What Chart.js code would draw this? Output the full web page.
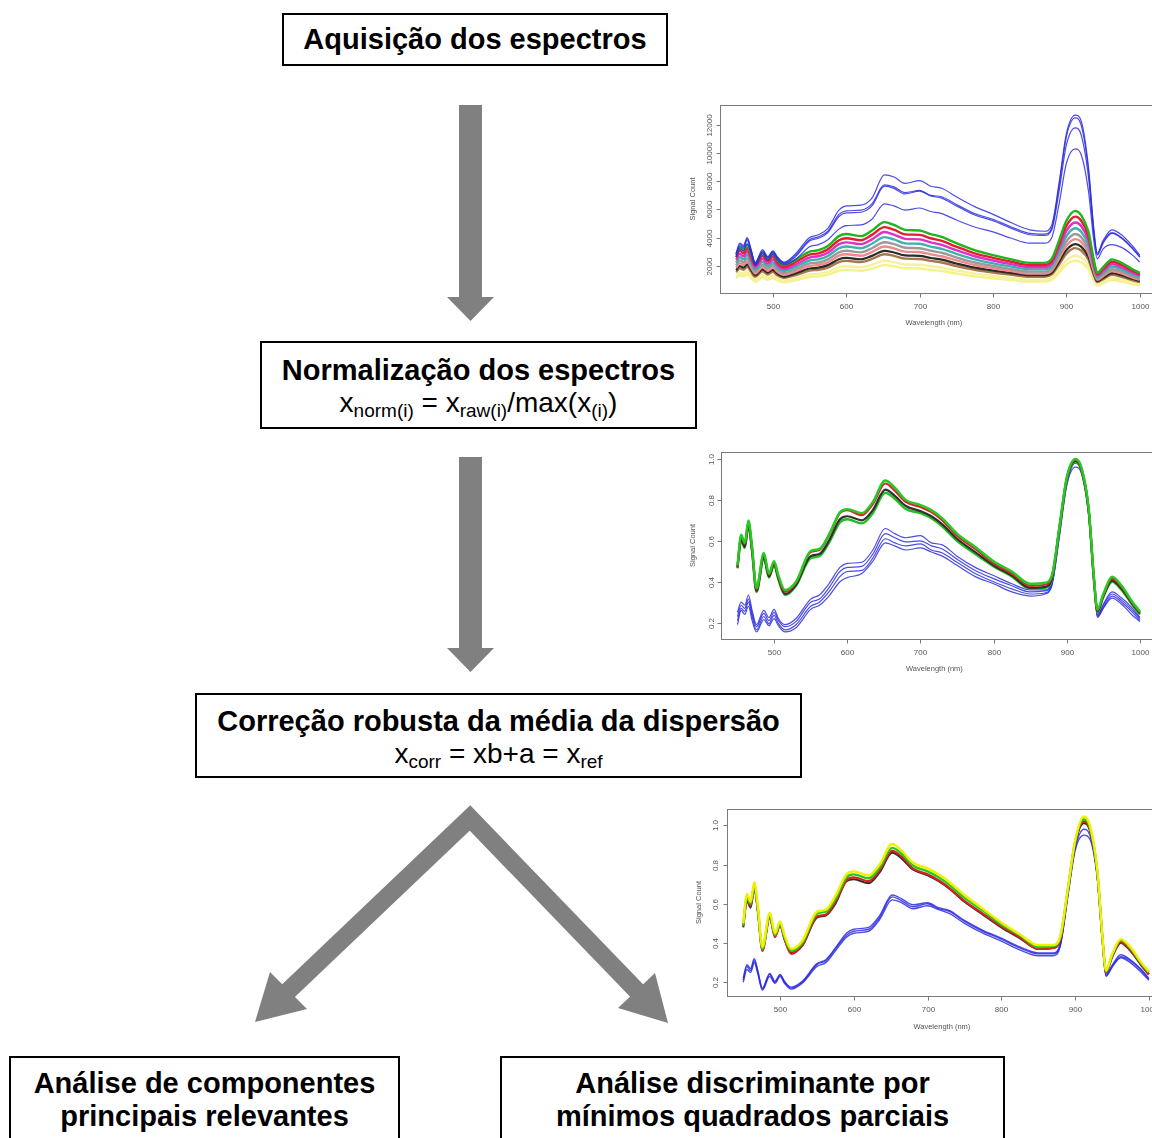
<!DOCTYPE html>
<html>
<head>
<meta charset="utf-8">
<script src="https://cdn.jsdelivr.net/npm/chart.js@4/dist/chart.umd.min.js"></script>
<style>
html, body { margin: 0; padding: 0; background: #fff; }
body { width: 1152px; height: 1138px; position: relative; overflow: hidden; font-family: "Liberation Sans", Arial, sans-serif; }
.box { position: absolute; border: 2px solid #000; box-sizing: border-box; background: #fff; }
.txt { position: absolute; text-align: center; font-weight: bold; font-size: 29px; line-height: 34px; white-space: nowrap; color: #000; }
.frm { position: absolute; text-align: center; font-size: 28px; line-height: 34px; white-space: nowrap; color: #000; }
.frm sub { font-size: 19px; vertical-align: baseline; position: relative; top: 5px; line-height: 0; }
canvas { position: absolute; }
svg { position: absolute; left: 0; top: 0; }
</style>
</head>
<body>

<svg width="1152" height="1138">
  <g fill="#808080">
    <rect x="459" y="105" width="23" height="193"/>
    <polygon points="447,297 494,297 470.5,321"/>
    <rect x="459" y="457" width="23" height="192"/>
    <polygon points="447,648 494,648 470.5,672"/>
    <polygon points="270,972 307,1009 255,1022"/>
    <polygon points="655,973 618,1008 668,1023"/>
  </g>
  <polyline points="286,993 470,818 639,993" fill="none" stroke="#808080" stroke-width="18" stroke-linejoin="miter"/>
</svg>

<div class="box" style="left:282px;top:13px;width:386px;height:53px"></div>
<div class="txt" style="left:282px;top:22px;width:386px">Aquisição dos espectros</div>

<div class="box" style="left:260px;top:341px;width:437px;height:88px"></div>
<div class="txt" style="left:260px;top:353px;width:437px">Normalização dos espectros</div>
<div class="frm" style="left:260px;top:386px;width:437px">x<sub>norm(i)</sub> = x<sub>raw(i)</sub>/max(x<sub>(i)</sub>)</div>

<div class="box" style="left:195px;top:693px;width:607px;height:85px"></div>
<div class="txt" style="left:195px;top:704px;width:607px">Correção robusta da média da dispersão</div>
<div class="frm" style="left:195px;top:737px;width:607px">x<sub>corr</sub> = xb+a = x<sub>ref</sub></div>

<div class="box" style="left:9px;top:1056px;width:391px;height:100px"></div>
<div class="txt" style="left:9px;top:1067px;width:391px;line-height:33px">Análise de componentes<br>principais relevantes</div>

<div class="box" style="left:500px;top:1056px;width:505px;height:100px"></div>
<div class="txt" style="left:500px;top:1067px;width:505px;line-height:33px">Análise discriminante por<br>mínimos quadrados parciais</div>

<canvas id="raw" width="476" height="236" style="left:680px;top:100px"></canvas>
<canvas id="norm" width="476" height="230" style="left:680px;top:448px"></canvas>
<canvas id="corr" width="485" height="230" style="left:680px;top:808px"></canvas>

<script>
// wavelength grid (nm) shared by every spectrum
const wavelengths = [450,455,460,465,470,476,486,493,500,506,515,
  530,550,562,575,590,600,620,635,652,665,680,
  700,715,730,750,775,800,825,850,870,880,890,
  900,912,920,930,937,942,950,962,975,990,1000];

const xTicks = [500, 600, 700, 800, 900, 1000];
const rawTicks = [2000, 4000, 6000, 8000, 10000, 12000];
const normTicks = [0.2, 0.4, 0.6, 0.8, 1.0];

// --- raw spectra (signal count) ---
const raw_blue_1 = [2900,3600,3450,4000,3250,2200,3150,2650,3050,2650,2250,
  2800,4000,4200,4650,5950,6250,6300,6800,8450,8300,7850,
  8050,7650,7500,6900,6200,5650,5050,4550,4450,4900,7900,
  11400,12700,12300,9000,4800,2900,3800,4550,4200,3400,2750];
const raw_blue_2 = [2800,3500,3350,3900,3150,2150,3050,2600,3000,2600,2200,
  2700,3850,4050,4450,5650,5900,5950,6400,7750,7600,7200,
  7350,7000,6900,6350,5700,5300,4750,4300,4250,4700,7700,
  11200,12500,12000,8800,4600,2800,3700,4350,4000,3250,2650];
const raw_blue_3 = [2750,3400,3250,3800,3100,2100,3000,2550,2950,2550,2150,
  2600,3750,3950,4350,5500,5750,5800,6250,7650,7500,7100,
  7300,6950,6800,6250,5600,5200,4650,4200,4150,4550,7300,
  10600,11800,11300,8300,4400,2750,3600,4300,3950,3200,2600];
const raw_blue_4 = [2600,3200,3050,3550,2900,2000,2850,2400,2800,2400,2050,
  2400,3350,3500,3850,4600,4850,4900,5300,6400,6250,5950,
  6100,5850,5700,5250,4750,4400,3950,3600,3600,4000,6400,
  9300,10300,9900,7300,3900,2500,3200,3500,3300,2750,2250];
const raw_green = [2800,3300,3100,3500,2900,2200,2900,2500,2850,2400,2050,
  2400,3000,3100,3400,4100,4250,4100,4500,5100,4900,4550,
  4500,4250,4050,3600,3100,2750,2450,2200,2200,2500,3800,
  5200,5900,5600,4400,2500,1500,1900,2450,2200,1750,1500];
const raw_red = [2600,3070,2880,3250,2700,2050,2700,2330,2650,2230,1900,
  2230,2790,2880,3160,3810,3950,3810,4190,4740,4560,4230,
  4190,3950,3770,3350,2880,2560,2280,2050,2050,2330,3530,
  4840,5490,5210,4090,2330,1400,1770,2280,2050,1630,1400];
const raw_magenta = [2410,2840,2670,3010,2490,1890,2490,2150,2450,2060,1760,
  2060,2580,2670,2920,3530,3660,3530,3870,4390,4210,3910,
  3870,3660,3480,3100,2670,2370,2110,1890,1890,2150,3270,
  4470,5070,4820,3780,2150,1290,1630,2110,1890,1510,1290];
const raw_teal = [2210,2610,2450,2770,2290,1740,2290,1980,2250,1900,1620,
  1900,2370,2450,2690,3240,3360,3240,3560,4030,3870,3590,
  3560,3360,3200,2840,2450,2170,1940,1740,1740,1980,3000,
  4110,4660,4420,3480,1980,1190,1500,1940,1740,1380,1190];
const raw_gray = [2020,2380,2230,2520,2090,1580,2090,1800,2050,1730,1480,
  1730,2160,2230,2450,2950,3060,2950,3240,3670,3530,3280,
  3240,3060,2920,2590,2230,1980,1760,1580,1580,1800,2740,
  3740,4250,4030,3170,1800,1080,1370,1760,1580,1260,1080];
const raw_pink = [1850,2180,2050,2310,1910,1450,1910,1650,1880,1580,1350,
  1580,1980,2050,2240,2710,2810,2710,2970,3370,3230,3000,
  2970,2810,2670,2380,2050,1820,1620,1450,1450,1650,2510,
  3430,3890,3700,2900,1650,990,1250,1620,1450,1160,990];
const raw_black = [1680,1980,1860,2100,1740,1320,1740,1500,1710,1440,1230,
  1440,1800,1860,2040,2460,2550,2460,2700,3060,2940,2730,
  2700,2550,2430,2160,1860,1650,1470,1320,1320,1500,2280,
  3120,3540,3360,2640,1500,900,1140,1470,1320,1050,900];
const raw_brown = [1540,1820,1710,1930,1600,1210,1600,1380,1570,1320,1130,
  1320,1650,1710,1870,2260,2340,2260,2480,2810,2700,2500,
  2480,2340,2230,1980,1710,1510,1350,1210,1210,1380,2090,
  2860,3250,3080,2420,1380,830,1050,1350,1210,960,830];
const raw_paleyellow = [1290,1520,1430,1610,1330,1010,1330,1150,1310,1100,940,
  1100,1380,1430,1560,1890,1960,1890,2070,2350,2250,2090,
  2070,1960,1860,1660,1430,1270,1130,1010,1010,1150,1750,
  2390,2710,2580,2020,1150,690,870,1130,1010,810,690];
const raw_yellow = [1120,1320,1240,1400,1160,880,1160,1000,1140,960,820,
  960,1200,1240,1360,1640,1700,1640,1800,2040,1960,1820,
  1800,1700,1620,1440,1240,1100,980,880,880,1000,1520,
  2080,2360,2240,1760,1000,600,760,980,880,700,600];

// --- normalised spectra ---
const norm_green_top = [0.48,0.63,0.59,0.70,0.57,0.37,0.54,0.44,0.50,0.43,0.36,
  0.40,0.55,0.56,0.63,0.74,0.755,0.735,0.79,0.895,0.86,0.80,
  0.775,0.75,0.71,0.635,0.57,0.50,0.45,0.39,0.395,0.435,0.67,
  0.91,1.0,0.96,0.76,0.43,0.265,0.34,0.425,0.38,0.30,0.255];
const norm_red = [0.475,0.625,0.585,0.695,0.565,0.365,0.535,0.435,0.495,0.425,0.35,
  0.395,0.545,0.555,0.625,0.735,0.75,0.725,0.78,0.88,0.845,0.79,
  0.765,0.74,0.70,0.625,0.56,0.49,0.44,0.38,0.385,0.43,0.665,
  0.905,0.995,0.955,0.755,0.425,0.26,0.335,0.415,0.375,0.295,0.25];
const norm_black = [0.47,0.61,0.57,0.68,0.55,0.355,0.52,0.425,0.485,0.415,0.34,
  0.385,0.525,0.535,0.60,0.705,0.72,0.70,0.75,0.85,0.82,0.77,
  0.745,0.72,0.68,0.61,0.545,0.48,0.43,0.37,0.375,0.42,0.66,
  0.90,0.99,0.95,0.75,0.42,0.255,0.33,0.405,0.365,0.29,0.245];
const norm_green_low = [0.465,0.60,0.565,0.675,0.545,0.35,0.515,0.42,0.48,0.41,0.335,
  0.38,0.515,0.525,0.59,0.69,0.705,0.685,0.735,0.835,0.805,0.755,
  0.735,0.71,0.67,0.60,0.535,0.475,0.425,0.365,0.37,0.415,0.655,
  0.895,0.985,0.945,0.745,0.415,0.25,0.325,0.40,0.36,0.285,0.24];
const norm_blue_1 = [0.25,0.30,0.285,0.335,0.26,0.19,0.26,0.225,0.265,0.22,0.19,
  0.22,0.315,0.335,0.39,0.47,0.49,0.495,0.555,0.66,0.635,0.615,
  0.625,0.59,0.58,0.525,0.47,0.43,0.39,0.36,0.36,0.40,0.65,
  0.89,0.995,0.955,0.74,0.42,0.24,0.29,0.35,0.32,0.27,0.225];
const norm_blue_2 = [0.23,0.285,0.27,0.315,0.245,0.18,0.245,0.21,0.25,0.21,0.18,
  0.205,0.30,0.315,0.37,0.45,0.47,0.475,0.535,0.635,0.615,0.595,
  0.60,0.575,0.56,0.51,0.455,0.415,0.38,0.35,0.355,0.395,0.64,
  0.885,0.99,0.95,0.735,0.415,0.235,0.285,0.34,0.31,0.26,0.22];
const norm_blue_3 = [0.21,0.27,0.255,0.30,0.23,0.165,0.23,0.195,0.235,0.195,0.165,
  0.19,0.28,0.30,0.35,0.425,0.45,0.455,0.515,0.61,0.59,0.575,
  0.585,0.555,0.54,0.495,0.44,0.40,0.365,0.34,0.345,0.39,0.63,
  0.875,0.98,0.94,0.73,0.41,0.23,0.275,0.33,0.30,0.25,0.21];
const norm_blue_4 = [0.19,0.26,0.24,0.28,0.21,0.155,0.215,0.185,0.22,0.185,0.155,
  0.175,0.265,0.285,0.33,0.40,0.42,0.44,0.50,0.59,0.575,0.555,
  0.565,0.545,0.525,0.48,0.425,0.39,0.35,0.33,0.34,0.385,0.62,
  0.87,0.96,0.93,0.72,0.40,0.225,0.27,0.32,0.29,0.235,0.205];

// --- scatter-corrected spectra ---
const corr_yellow = [0.50,0.65,0.61,0.71,0.58,0.38,0.555,0.45,0.51,0.44,0.37,
  0.41,0.56,0.57,0.64,0.75,0.765,0.745,0.80,0.905,0.87,0.81,
  0.78,0.75,0.71,0.645,0.575,0.505,0.445,0.39,0.39,0.435,0.67,
  0.92,1.045,1.0,0.78,0.44,0.26,0.34,0.42,0.38,0.30,0.255];
const corr_green = [0.49,0.635,0.60,0.695,0.57,0.37,0.545,0.44,0.50,0.43,0.36,
  0.40,0.55,0.56,0.625,0.735,0.75,0.73,0.785,0.885,0.855,0.795,
  0.765,0.735,0.695,0.63,0.565,0.495,0.44,0.38,0.385,0.43,0.665,
  0.915,1.03,0.99,0.77,0.435,0.255,0.335,0.415,0.375,0.295,0.25];
const corr_red = [0.485,0.625,0.59,0.685,0.56,0.36,0.535,0.43,0.49,0.42,0.345,
  0.39,0.535,0.545,0.61,0.72,0.735,0.715,0.77,0.87,0.84,0.78,
  0.75,0.72,0.68,0.615,0.55,0.485,0.43,0.37,0.375,0.42,0.66,
  0.91,1.02,0.98,0.765,0.43,0.25,0.33,0.405,0.365,0.29,0.24];
const corr_black = [0.48,0.615,0.58,0.675,0.555,0.365,0.53,0.435,0.49,0.42,0.35,
  0.385,0.53,0.54,0.60,0.715,0.725,0.705,0.76,0.86,0.83,0.775,
  0.745,0.715,0.675,0.61,0.545,0.48,0.425,0.37,0.375,0.415,0.66,
  0.905,1.01,0.975,0.76,0.43,0.25,0.325,0.40,0.36,0.285,0.24];
const corr_blue_1 = [0.22,0.29,0.27,0.32,0.255,0.17,0.245,0.205,0.24,0.205,0.175,
  0.205,0.295,0.315,0.375,0.45,0.47,0.48,0.54,0.645,0.625,0.595,
  0.605,0.58,0.565,0.515,0.465,0.425,0.38,0.35,0.35,0.395,0.645,
  0.89,1.03,0.98,0.755,0.43,0.24,0.285,0.34,0.315,0.265,0.22];
const corr_blue_2 = [0.21,0.28,0.26,0.31,0.25,0.165,0.24,0.20,0.235,0.20,0.17,
  0.20,0.29,0.31,0.37,0.44,0.46,0.47,0.53,0.635,0.615,0.585,
  0.60,0.575,0.56,0.51,0.46,0.42,0.375,0.345,0.345,0.39,0.64,
  0.88,0.98,0.95,0.745,0.42,0.235,0.28,0.33,0.31,0.26,0.215];
const corr_blue_3 = [0.20,0.265,0.25,0.30,0.24,0.16,0.23,0.195,0.23,0.195,0.165,
  0.195,0.28,0.30,0.36,0.43,0.45,0.46,0.52,0.62,0.605,0.575,
  0.59,0.57,0.55,0.50,0.45,0.41,0.365,0.335,0.335,0.385,0.63,
  0.87,0.95,0.93,0.735,0.41,0.23,0.275,0.325,0.30,0.25,0.21];

function series(values, color, width) {
  return {
    data: wavelengths.map((w, i) => ({ x: w, y: values[i] })),
    borderColor: color,
    borderWidth: width,
    pointRadius: 0,
    fill: false,
    cubicInterpolationMode: 'monotone'
  };
}

// R style box, ticks and rotated y labels
const rAxes = {
  id: 'rAxes',
  afterDraw(chart, args, o) {
    const ctx = chart.ctx, a = chart.chartArea;
    const x = chart.scales.x, y = chart.scales.y;
    const L = Math.round(a.left) + 0.5, T = Math.round(a.top) + 0.5;
    const B = Math.round(a.bottom) + 0.5;
    ctx.save();
    ctx.strokeStyle = '#7a7a7a';
    ctx.lineWidth = 1;
    ctx.strokeRect(L, T, Math.round(a.right - a.left), B - T);
    ctx.fillStyle = '#555';
    ctx.font = '8px "Liberation Sans", Arial, sans-serif';
    ctx.textAlign = 'center';
    ctx.textBaseline = 'middle';
    o.xTicks.forEach(v => {
      const px = Math.round(x.getPixelForValue(v)) + 0.5;
      ctx.beginPath(); ctx.moveTo(px, B); ctx.lineTo(px, B + 4); ctx.stroke();
      ctx.fillText(String(v), px, a.bottom + o.xLabelGap);
    });
    o.yTicks.forEach(v => {
      const py = Math.round(y.getPixelForValue(v)) + 0.5;
      ctx.beginPath(); ctx.moveTo(L, py); ctx.lineTo(L - 4, py); ctx.stroke();
      ctx.save();
      ctx.translate(a.left - o.yLabelGap, py);
      ctx.rotate(-Math.PI / 2);
      ctx.fillText(o.yFormat(v), 0, 0);
      ctx.restore();
    });
    ctx.font = '7.5px "Liberation Sans", Arial, sans-serif';
    ctx.fillText('Wavelength (nm)', (a.left + x.getPixelForValue(1000)) / 2 + 4, a.bottom + o.xTitleGap);
    ctx.save();
    ctx.translate(a.left - o.yTitleGap, (a.top + a.bottom) / 2);
    ctx.rotate(-Math.PI / 2);
    ctx.fillText('Signal Count', 0, 0);
    ctx.restore();
    ctx.restore();
  }
};

function makeChart(id, sets, xr, yr, pad, axisOpts) {
  return new Chart(document.getElementById(id), {
    type: 'line',
    data: { datasets: sets },
    options: {
      responsive: false,
      animation: false,
      devicePixelRatio: 1,
      layout: { padding: pad },
      plugins: { legend: { display: false }, tooltip: { enabled: false }, rAxes: axisOpts },
      scales: {
        x: { type: 'linear', min: xr[0], max: xr[1], display: false },
        y: { type: 'linear', min: yr[0], max: yr[1], display: false }
      }
    },
    plugins: [rAxes]
  });
}

const blueLine = 'rgba(45,45,225,0.85)';

makeChart('raw', [
  series(raw_blue_1, blueLine, 1.2),
  series(raw_blue_2, blueLine, 1.2),
  series(raw_blue_3, blueLine, 1.2),
  series(raw_blue_4, blueLine, 1.2),
  series(raw_green, '#1fb51f', 2.4),
  series(raw_red, '#e0202c', 2.4),
  series(raw_magenta, '#e030c8', 2.4),
  series(raw_teal, '#3fb0b0', 2.4),
  series(raw_gray, '#9a9a9a', 2.4),
  series(raw_pink, '#f08a8a', 2.4),
  series(raw_black, '#2a2a2a', 2.2),
  series(raw_brown, '#a8784a', 2.4),
  series(raw_paleyellow, '#f6f0a0', 2.4),
  series(raw_yellow, '#f6f28a', 2.4)
], [428, 1022], [60, 13421], { left: 40, top: 5, right: 0, bottom: 43 },
  { xTicks: xTicks, yTicks: rawTicks, yFormat: v => String(v),
    xLabelGap: 14, xTitleGap: 30, yLabelGap: 10, yTitleGap: 27 });

makeChart('norm', [
  series(norm_green_top, '#22cc22', 2.4),
  series(norm_red, '#d8282c', 2.2),
  series(norm_black, '#303030', 2.2),
  series(norm_green_low, '#22c022', 2.4),
  series(norm_blue_1, blueLine, 1.2),
  series(norm_blue_2, blueLine, 1.2),
  series(norm_blue_3, blueLine, 1.2),
  series(norm_blue_4, blueLine, 1.2)
], [427.5, 1022], [0.12, 1.034], { left: 41, top: 4, right: 0, bottom: 39 },
  { xTicks: xTicks, yTicks: normTicks, yFormat: v => v.toFixed(1),
    xLabelGap: 14, xTitleGap: 30, yLabelGap: 9, yTitleGap: 28 });

makeChart('corr', [
  series(corr_yellow, '#f2f000', 2.4),
  series(corr_green, '#22cc22', 2.4),
  series(corr_red, '#e02020', 2.2),
  series(corr_black, '#303030', 2.0),
  series(corr_blue_1, blueLine, 1.4),
  series(corr_blue_2, blueLine, 1.4),
  series(corr_blue_3, blueLine, 1.4)
], [428, 1022], [0.13, 1.083], { left: 47, top: 1, right: 0, bottom: 42 },
  { xTicks: xTicks, yTicks: normTicks, yFormat: v => v.toFixed(1),
    xLabelGap: 14, xTitleGap: 31, yLabelGap: 11, yTitleGap: 28 });
</script>
</body>
</html>
